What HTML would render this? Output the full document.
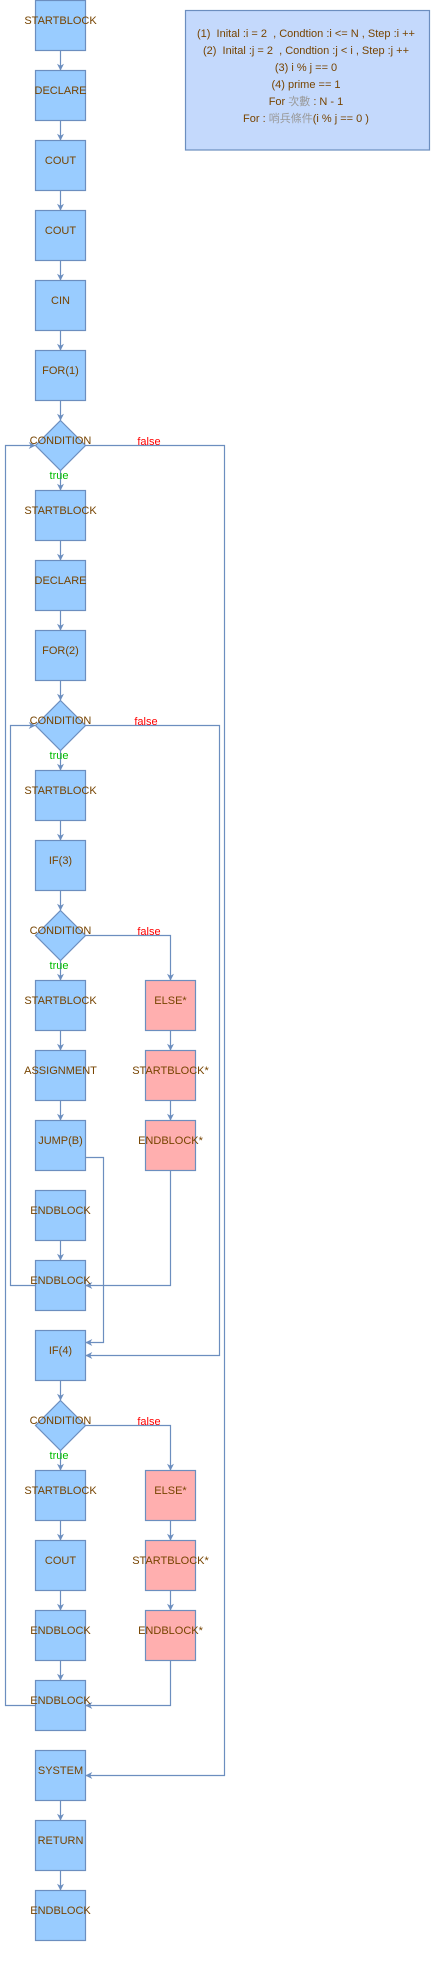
<!DOCTYPE html>
<html><head><meta charset="utf-8"><style>
html,body{margin:0;padding:0;background:#fff;}
svg{display:block;}
text{font-family:"Liberation Sans","Noto Sans CJK TC",sans-serif;font-size:11px;}
</style></head><body>
<svg width="431" height="1962" viewBox="0 0 431 1962" xmlns="http://www.w3.org/2000/svg">
<defs>
<marker id="a" viewBox="0 0 10 10" refX="9" refY="5" markerWidth="7" markerHeight="7" orient="auto" markerUnits="userSpaceOnUse">
<path d="M0,0 L10,5 L0,10 L3,5 Z" fill="#6c8ebf"/>
</marker>
</defs>
<g stroke="#6c8ebf" stroke-width="1.2" fill="none" marker-end="url(#a)">
<!-- main vertical chain -->
<path d="M60.5 50V70"/><path d="M60.5 120V140"/><path d="M60.5 190V210"/><path d="M60.5 260V280"/><path d="M60.5 330V350"/><path d="M60.5 400V420"/>
<path d="M60.5 470V490"/><path d="M60.5 540V560"/><path d="M60.5 610V630"/><path d="M60.5 680V700"/>
<path d="M60.5 750V770"/><path d="M60.5 820V840"/><path d="M60.5 890V910"/>
<path d="M60.5 960V980"/><path d="M60.5 1030V1050"/><path d="M60.5 1100V1120"/>
<path d="M60.5 1240V1260"/>
<path d="M60.5 1380V1400"/><path d="M60.5 1450V1470"/><path d="M60.5 1520V1540"/><path d="M60.5 1590V1610"/><path d="M60.5 1660V1680"/>
<path d="M60.5 1800V1820"/><path d="M60.5 1870V1890"/>
<!-- right branch chains -->
<path d="M170.5 1030V1050"/><path d="M170.5 1100V1120"/>
<path d="M170.5 1520V1540"/><path d="M170.5 1590V1610"/>
<!-- false branches -->
<path d="M85 935.5H170.5V980"/>
<path d="M85 1425.5H170.5V1470"/>
<path d="M170.5 1170V1285.5H86"/>
<path d="M170.5 1660V1705.5H86"/>
<!-- loops -->
<path d="M35 1285.5H10.5V725.5H35"/>
<path d="M35 1705.5H5.5V445.5H35"/>
<path d="M85 725.5H219.5V1355.5H86"/>
<path d="M85 445.5H224.5V1775.5H86"/>
<path d="M85 1157.5H103.5V1342.5H86"/>
</g>
<g stroke="#6c8ebf" stroke-width="1.2">
<g fill="#99ccff">
<rect x="35.5" y="0.5" width="50" height="50"/>
<rect x="35.5" y="70.5" width="50" height="50"/>
<rect x="35.5" y="140.5" width="50" height="50"/>
<rect x="35.5" y="210.5" width="50" height="50"/>
<rect x="35.5" y="280.5" width="50" height="50"/>
<rect x="35.5" y="350.5" width="50" height="50"/>
<path d="M60.5 420.5L85.5 445.5L60.5 470.5L35.5 445.5Z"/>
<rect x="35.5" y="490.5" width="50" height="50"/>
<rect x="35.5" y="560.5" width="50" height="50"/>
<rect x="35.5" y="630.5" width="50" height="50"/>
<path d="M60.5 700.5L85.5 725.5L60.5 750.5L35.5 725.5Z"/>
<rect x="35.5" y="770.5" width="50" height="50"/>
<rect x="35.5" y="840.5" width="50" height="50"/>
<path d="M60.5 910.5L85.5 935.5L60.5 960.5L35.5 935.5Z"/>
<rect x="35.5" y="980.5" width="50" height="50"/>
<rect x="35.5" y="1050.5" width="50" height="50"/>
<rect x="35.5" y="1120.5" width="50" height="50"/>
<rect x="35.5" y="1190.5" width="50" height="50"/>
<rect x="35.5" y="1260.5" width="50" height="50"/>
<rect x="35.5" y="1330.5" width="50" height="50"/>
<path d="M60.5 1400.5L85.5 1425.5L60.5 1450.5L35.5 1425.5Z"/>
<rect x="35.5" y="1470.5" width="50" height="50"/>
<rect x="35.5" y="1540.5" width="50" height="50"/>
<rect x="35.5" y="1610.5" width="50" height="50"/>
<rect x="35.5" y="1680.5" width="50" height="50"/>
<rect x="35.5" y="1750.5" width="50" height="50"/>
<rect x="35.5" y="1820.5" width="50" height="50"/>
<rect x="35.5" y="1890.5" width="50" height="50"/>
</g>
<g fill="#ffafaf">
<rect x="145.5" y="980.5" width="50" height="50"/>
<rect x="145.5" y="1050.5" width="50" height="50"/>
<rect x="145.5" y="1120.5" width="50" height="50"/>
<rect x="145.5" y="1470.5" width="50" height="50"/>
<rect x="145.5" y="1540.5" width="50" height="50"/>
<rect x="145.5" y="1610.5" width="50" height="50"/>
</g>
<rect x="185.5" y="10.5" width="244" height="139.5" fill="#c4d9fc"/>
</g>
<g fill="#774400" text-anchor="middle">
<text x="60.5" y="24">STARTBLOCK</text>
<text x="60.5" y="94">DECLARE</text>
<text x="60.5" y="164">COUT</text>
<text x="60.5" y="234">COUT</text>
<text x="60.5" y="304">CIN</text>
<text x="60.5" y="374">FOR(1)</text>
<text x="60.5" y="444">CONDITION</text>
<text x="60.5" y="514">STARTBLOCK</text>
<text x="60.5" y="584">DECLARE</text>
<text x="60.5" y="654">FOR(2)</text>
<text x="60.5" y="724">CONDITION</text>
<text x="60.5" y="794">STARTBLOCK</text>
<text x="60.5" y="864">IF(3)</text>
<text x="60.5" y="934">CONDITION</text>
<text x="60.5" y="1004">STARTBLOCK</text>
<text x="60.5" y="1074">ASSIGNMENT</text>
<text x="60.5" y="1144">JUMP(B)</text>
<text x="60.5" y="1214">ENDBLOCK</text>
<text x="60.5" y="1284">ENDBLOCK</text>
<text x="60.5" y="1354">IF(4)</text>
<text x="60.5" y="1424">CONDITION</text>
<text x="60.5" y="1494">STARTBLOCK</text>
<text x="60.5" y="1564">COUT</text>
<text x="60.5" y="1634">ENDBLOCK</text>
<text x="60.5" y="1704">ENDBLOCK</text>
<text x="60.5" y="1774">SYSTEM</text>
<text x="60.5" y="1844">RETURN</text>
<text x="60.5" y="1914">ENDBLOCK</text>
<text x="170.5" y="1004">ELSE*</text>
<text x="170.5" y="1074">STARTBLOCK*</text>
<text x="170.5" y="1144">ENDBLOCK*</text>
<text x="170.5" y="1494">ELSE*</text>
<text x="170.5" y="1564">STARTBLOCK*</text>
<text x="170.5" y="1634">ENDBLOCK*</text>
<g style="font-size:10.5px">
<text x="306" y="37">(1)&#160; Inital :i = 2&#160; , Condtion :i &lt;= N , Step :i ++</text>
<text x="306" y="54">(2)&#160; Inital :j = 2&#160; , Condtion :j &lt; i , Step :j ++</text>
<text x="306" y="71">(3) i % j == 0</text>
<text x="306" y="88">(4) prime == 1</text>
<text x="306" y="105">For <tspan fill="#999">次數</tspan> : N - 1</text>
<text x="306" y="122">For : <tspan fill="#999">哨兵條件</tspan>(i % j == 0 )</text>
</g>
</g>
<g fill="#ff0000" text-anchor="middle">
<text x="149" y="445">false</text>
<text x="146" y="725">false</text>
<text x="149" y="935">false</text>
<text x="149" y="1425">false</text>
</g>
<g fill="#00bb00" text-anchor="middle">
<text x="59" y="479">true</text>
<text x="59" y="759">true</text>
<text x="59" y="969">true</text>
<text x="59" y="1459">true</text>
</g>
</svg>
</body></html>
